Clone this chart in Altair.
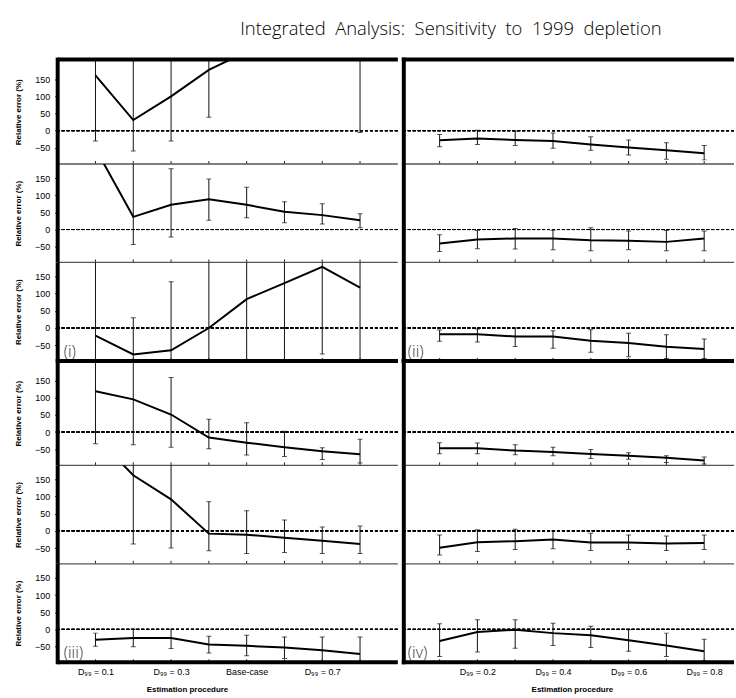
import altair as alt
import pandas as pd

# Estimation procedures along the x axis (1..8)
X_POS = [1, 2, 3, 4, 5, 6, 7, 8]

LEFT_TICKS = [1, 3, 5, 7]
LEFT_TICK_LABELS = ["D₉₉ = 0.1", "D₉₉ = 0.3", "Base-case", "D₉₉ = 0.7"]
RIGHT_TICKS = [2, 4, 6, 8]
RIGHT_TICK_LABELS = ["D₉₉ = 0.2", "D₉₉ = 0.4", "D₉₉ = 0.6", "D₉₉ = 0.8"]

PANEL_LABELS = ["(i)", "(ii)", "(iii)", "(iv)"]

# Relative error (%) - estimate, lower and upper interval, for each of the
# three quantities in each scenario block.  Values beyond the axis range are
# clipped by the panel.
I_A_EST = [161, 31, 100, 177, 230, 270, 290, 260]
I_A_LO = [-30, -59, -30, 39, 215, 220, 225, -5]
I_A_HI = [260, 260, 260, 260, 260, 330, 360, 330]

I_B_EST = [236, 37, 72, 88, 72, 52, 42, 27]
I_B_LO = [205, -44, -22, 27, 34, 20, 16, 5]
I_B_HI = [270, 230, 177, 147, 123, 81, 75, 46]

I_C_EST = [-22, -77, -65, 0, 84, 131, 178, 118]
I_C_LO = [-130, -110, -110, -130, -130, -130, -76, -130]
I_C_HI = [260, 30, 135, 260, 260, 260, 260, 260]

II_A_EST = [-28, -23, -27, -30, -40, -49, -57, -66]
II_A_LO = [-47, -40, -43, -51, -57, -71, -83, -85]
II_A_HI = [-11, 1, -2, -7, -18, -27, -35, -43]

II_B_EST = [-41, -29, -26, -26, -31, -33, -36, -26]
II_B_LO = [-64, -56, -57, -59, -62, -59, -62, -62]
II_B_HI = [-15, -3, 3, -2, 5, -4, -3, -4]

II_C_EST = [-18, -18, -25, -25, -37, -44, -55, -61]
II_C_LO = [-39, -41, -54, -59, -71, -84, -89, -89]
II_C_HI = [-6, -3, 0, -8, -5, -15, -20, -32]

III_A_EST = [119, 95, 51, -16, -31, -44, -56, -65]
III_A_LO = [-34, -37, -44, -49, -67, -71, -80, -90]
III_A_HI = [260, 260, 159, 37, 27, 2, -46, -21]

III_B_EST = [275, 162, 92, -8, -11, -20, -29, -38]
III_B_LO = [210, -38, -50, -58, -66, -63, -66, -66]
III_B_HI = [300, 260, 260, 85, 59, 32, 11, 14]

III_C_EST = [-30, -25, -25, -44, -48, -53, -61, -72]
III_C_LO = [-49, -51, -56, -69, -77, -85, -96, -110]
III_C_HI = [-11, 0, 0, -20, -17, -22, -22, -22]

IV_A_EST = [-47, -47, -54, -58, -64, -69, -75, -83]
IV_A_LO = [-63, -63, -66, -69, -77, -79, -89, -93]
IV_A_HI = [-31, -32, -37, -44, -51, -60, -69, -73]

IV_B_EST = [-49, -33, -30, -25, -34, -34, -37, -35]
IV_B_LO = [-70, -60, -54, -52, -57, -54, -57, -54]
IV_B_HI = [-12, 3, 5, 0, -7, -12, -15, -12]

IV_C_EST = [-34, -8, -1, -11, -17, -32, -47, -64]
IV_C_LO = [-79, -66, -55, -47, -53, -64, -79, -92]
IV_C_HI = [16, 28, 28, 18, 9, -1, -11, -29]

LEFT_COLUMN = [
    (I_A_EST, I_A_LO, I_A_HI), (I_B_EST, I_B_LO, I_B_HI), (I_C_EST, I_C_LO, I_C_HI),
    (III_A_EST, III_A_LO, III_A_HI), (III_B_EST, III_B_LO, III_B_HI), (III_C_EST, III_C_LO, III_C_HI),
]
RIGHT_COLUMN = [
    (II_A_EST, II_A_LO, II_A_HI), (II_B_EST, II_B_LO, II_B_HI), (II_C_EST, II_C_LO, II_C_HI),
    (IV_A_EST, IV_A_LO, IV_A_HI), (IV_B_EST, IV_B_LO, IV_B_HI), (IV_C_EST, IV_C_LO, IV_C_HI),
]

# Layout
LEFT_W = 342
RIGHT_W = 334
UNIT = LEFT_W / 9.0
ROW_H = [105, 99, 99, 105, 99, 99]
FONT = "Liberation Sans"
THICK = 4
NB = "\u00a0 "  # wide word gap in the title


def y_domain(row):
    return [-97, 207] if row % 3 == 0 else [-96, 191]


def panel(series, col, row):
    est, lo, hi = series
    w = LEFT_W if col == 0 else RIGHT_W
    h = ROW_H[row]
    df = pd.DataFrame({"x": X_POS, "est": est, "lo": lo, "hi": hi})

    if row == 5:
        ticks = LEFT_TICKS if col == 0 else RIGHT_TICKS
        names = LEFT_TICK_LABELS if col == 0 else RIGHT_TICK_LABELS
        expr = "''"
        for t, n in reversed(list(zip(ticks, names))):
            expr = f"datum.value == {t} ? '{n}' : ({expr})"
        x_axis = alt.Axis(
            values=ticks, labelExpr=expr, ticks=False, domain=False, grid=False,
            labelFont=FONT, labelFontSize=9, labelColor="black", labelPadding=5,
            title="Estimation procedure", titleFont=FONT, titleFontSize=8,
            titleFontWeight="bold", titleColor="black", titlePadding=9,
            titleX=130 if col == 0 else 171,
        )
    else:
        x_axis = None
    x_scale = alt.Scale(domain=[0, 9 if col == 0 else RIGHT_W / UNIT], nice=False, zero=False)

    if col == 0:
        y_axis = alt.Axis(
            values=[-50, 0, 50, 100, 150], domain=False, grid=False, tickSize=3,
            tickColor="black", labelFont=FONT, labelFontSize=9, labelColor="black",
            labelPadding=5, title="Relative error (%)", titleFont=FONT, titleFontSize=8,
            titleFontWeight="bold", titleColor="black", titlePadding=12,
        )
    else:
        y_axis = None
    y_scale = alt.Scale(domain=y_domain(row), nice=False, zero=False)

    X = lambda f: alt.X(f, type="quantitative", scale=x_scale, axis=x_axis)
    Y = lambda f: alt.Y(f, type="quantitative", scale=y_scale, axis=y_axis)

    base = alt.Chart(df)
    zero = base.mark_rule(color="black", strokeWidth=1, strokeDash=[3, 2]).encode(
        y=alt.Y(datum=0, type="quantitative", scale=y_scale, axis=y_axis)
    )
    bars = base.mark_rule(clip=True, color="#111", strokeWidth=1).encode(
        x=X("x"), y=Y("lo"), y2="hi"
    )
    cap_lo = base.mark_tick(clip=True, orient="horizontal", size=5, thickness=1, color="#111").encode(
        x=X("x"), y=Y("lo")
    )
    cap_hi = base.mark_tick(clip=True, orient="horizontal", size=5, thickness=1, color="#111").encode(
        x=X("x"), y=Y("hi")
    )
    line = base.mark_line(clip=True, color="black", strokeWidth=2).encode(
        x=X("x"), y=Y("est")
    )
    xticks = base.mark_rule(color="#222", strokeWidth=1).encode(
        x=X("x"), y=alt.value(h - 3), y2=alt.value(h)
    )
    layers = [zero, bars, cap_lo, cap_hi, line, xticks]

    one = alt.Data(values=[{"k": 0}])
    # panel frame: thin separators inside a block, thick block borders
    if row % 3 != 2:
        layers.append(alt.Chart(one).mark_rule(color="#555", strokeWidth=1.3).encode(
            x=alt.value(0), x2=alt.value(w), y=alt.value(h)))
    if row % 3 == 0:
        layers.append(alt.Chart(one).mark_rule(color="black", strokeWidth=THICK).encode(
            x=alt.value(0), x2=alt.value(w), y=alt.value(0)))
    if row % 3 == 2:
        layers.append(alt.Chart(one).mark_rule(color="black", strokeWidth=THICK).encode(
            x=alt.value(0), x2=alt.value(w), y=alt.value(h)))
        label = PANEL_LABELS[(row // 3) * 2 + col]
        layers.append(alt.Chart(alt.Data(values=[{"label": label}])).mark_text(
            align="left", baseline="bottom", font="Open Sans", fontSize=16, fontWeight=300,
            color="#333").encode(x=alt.value(6), y=alt.value(h - 1), text="label:N"))
    # vertical block border (left edge of each column)
    y_top = -THICK / 2 if row % 3 == 0 else 0
    y_bot = h + THICK / 2 if row % 3 == 2 else h
    layers.append(alt.Chart(one).mark_rule(color="black", strokeWidth=THICK).encode(
        x=alt.value(0 if col == 0 else THICK / 2), y=alt.value(y_top), y2=alt.value(y_bot)))

    return alt.layer(*layers).properties(width=w, height=h)


left = alt.vconcat(*[panel(s, 0, r) for r, s in enumerate(LEFT_COLUMN)], spacing=0, bounds="flush")
right = alt.vconcat(*[panel(s, 1, r) for r, s in enumerate(RIGHT_COLUMN)], spacing=0, bounds="flush")

chart = alt.hconcat(left, right, spacing=0).properties(
    title=alt.TitleParams(
        NB.join(["Integrated", "Analysis:", "Sensitivity", "to", "1999", "depletion"]),
        font="Open Sans", fontSize=18.5, fontWeight=300, color="black",
        anchor="middle", offset=17, dx=76,
    ),
    padding={"left": 14, "top": 18, "right": 0, "bottom": 0},
).configure_view(stroke=None)

chart.save("out.html", embed_options={"renderer": "svg", "actions": False})
